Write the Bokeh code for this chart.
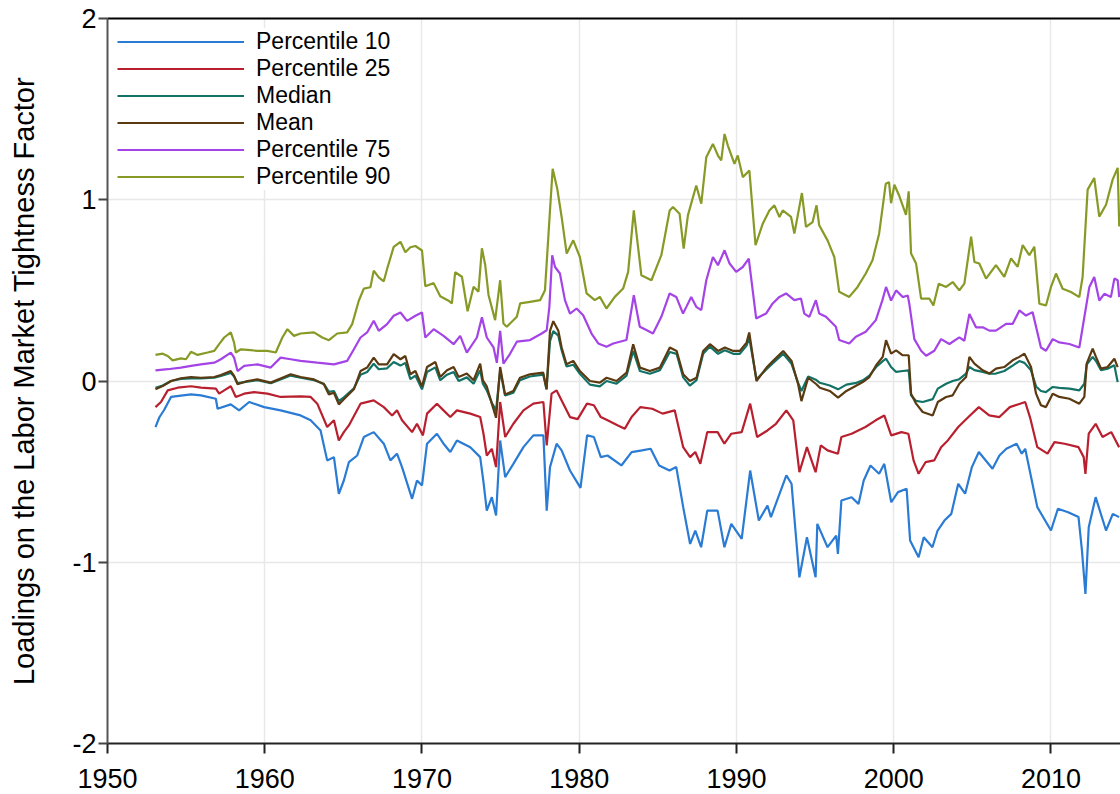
from bokeh.plotting import figure
from bokeh.models import (FixedTicker, LinearAxis, Legend, LegendItem, Range1d,
                          ColumnDataSource)
from bokeh.embed import file_html
from bokeh.resources import INLINE

# ---------------- data ----------------
p10_years = [1953.05, 1953.3, 1953.6, 1954.04, 1955.31, 1955.94, 1956.89, 1957.00, 1957.84, 1958.37,
             1959.01, 1959.96, 1961.01, 1962.28, 1962.92, 1963.55, 1963.97, 1964.40, 1964.71, 1965.03,
             1965.35, 1965.88, 1966.30, 1966.93, 1967.57, 1967.99, 1968.41, 1968.73, 1969.37, 1969.68,
             1970.00, 1970.32, 1970.95, 1971.37, 1971.80, 1972.22, 1973.07, 1973.70, 1973.91, 1974.12,
             1974.44, 1974.71, 1974.97, 1975.29, 1975.81, 1976.45, 1977.08, 1977.72, 1977.93, 1978.14,
             1978.56, 1978.88, 1979.41, 1980.08, 1980.50, 1980.93, 1981.37, 1981.80, 1982.68, 1983.33,
             1983.99, 1984.54, 1985.08, 1985.74, 1986.17, 1986.61, 1987.05, 1987.38, 1987.75, 1988.14,
             1988.80, 1989.23, 1989.67, 1990.33, 1990.87, 1991.42, 1991.97, 1992.19, 1993.17, 1993.50,
             1994.00, 1994.48, 1995.03, 1995.14, 1995.79, 1996.34, 1996.45, 1996.67, 1997.32, 1997.76,
             1998.09, 1998.52, 1999.07, 1999.40, 1999.84, 2000.27, 2000.82, 2001.04, 2001.58, 2001.91,
             2002.46, 2002.79, 2003.22, 2003.66, 2004.10, 2004.54, 2004.97, 2005.41, 2006.28, 2006.72,
             2007.16, 2007.81, 2008.14, 2008.36, 2008.69, 2009.13, 2010.00, 2010.44, 2011.09, 2011.75,
             2011.97, 2012.19, 2012.40, 2012.84, 2013.50, 2013.93, 2014.33]
p10_vals = [-0.254, -0.200, -0.160, -0.088, -0.074, -0.079, -0.098, -0.153, -0.129, -0.162,
            -0.116, -0.144, -0.162, -0.190, -0.217, -0.273, -0.438, -0.420, -0.622, -0.549,
            -0.448, -0.411, -0.309, -0.282, -0.346, -0.438, -0.401, -0.475, -0.650, -0.549,
            -0.576, -0.346, -0.291, -0.346, -0.392, -0.328, -0.365, -0.420, -0.558, -0.715,
            -0.641, -0.742, -0.328, -0.530, -0.457, -0.365, -0.300, -0.300, -0.715, -0.475,
            -0.346, -0.383, -0.494, -0.590, -0.300, -0.309, -0.420, -0.411, -0.466, -0.392,
            -0.383, -0.374, -0.466, -0.494, -0.475, -0.696, -0.899, -0.825, -0.917, -0.715,
            -0.715, -0.917, -0.788, -0.871, -0.494, -0.770, -0.687, -0.751, -0.521, -0.567,
            -1.083, -0.862, -1.083, -0.788, -0.917, -0.853, -0.954, -0.659, -0.641, -0.678,
            -0.549, -0.466, -0.512, -0.457, -0.669, -0.613, -0.595, -0.880, -0.972, -0.862,
            -0.917, -0.825, -0.770, -0.733, -0.567, -0.622, -0.475, -0.392, -0.484, -0.411,
            -0.374, -0.346, -0.401, -0.374, -0.512, -0.696, -0.825, -0.705, -0.724, -0.751,
            -0.936, -1.175, -0.807, -0.641, -0.825, -0.733, -0.751]

p25_years = [1953.05, 1953.40, 1953.83, 1954.46, 1955.31, 1955.94, 1956.89, 1957.10, 1957.42, 1957.84,
             1958.16, 1958.69, 1959.32, 1960.17, 1961.01, 1962.28, 1962.92, 1963.34, 1963.97, 1964.40,
             1964.71, 1965.03, 1965.35, 1966.09, 1966.93, 1967.57, 1968.10, 1968.41, 1968.73, 1969.37,
             1969.68, 1970.06, 1970.32, 1970.95, 1971.37, 1971.80, 1972.22, 1973.07, 1973.70, 1973.91,
             1974.12, 1974.44, 1974.71, 1974.97, 1975.29, 1975.81, 1976.45, 1977.08, 1977.72, 1977.93,
             1978.24, 1978.56, 1978.88, 1979.41, 1979.90, 1980.49, 1980.93, 1981.37, 1981.80, 1982.46,
             1982.90, 1983.33, 1983.88, 1984.64, 1985.30, 1986.07, 1986.61, 1987.05, 1987.38, 1987.70,
             1988.14, 1988.80, 1989.23, 1989.67, 1990.33, 1990.87, 1991.31, 1991.97, 1992.51, 1993.17,
             1993.61, 1994.00, 1994.48, 1995.03, 1995.36, 1995.79, 1996.45, 1996.67, 1997.32, 1998.20,
             1998.85, 1999.40, 1999.84, 2000.49, 2000.93, 2001.26, 2001.58, 2002.02, 2002.57, 2003.01,
             2003.44, 2004.10, 2004.75, 2005.41, 2006.07, 2006.72, 2007.38, 2008.36, 2008.69, 2009.13,
             2009.78, 2010.22, 2010.87, 2011.75, 2012.08, 2012.19, 2012.40, 2012.84, 2013.28, 2013.83,
             2014.33]
p25_vals = [-0.144, -0.116, -0.052, -0.037, -0.029, -0.037, -0.042, -0.070, -0.052, -0.029,
            -0.088, -0.070, -0.061, -0.070, -0.088, -0.085, -0.088, -0.125, -0.254, -0.217,
            -0.328, -0.282, -0.245, -0.125, -0.107, -0.144, -0.190, -0.162, -0.217, -0.282,
            -0.236, -0.300, -0.180, -0.125, -0.162, -0.199, -0.162, -0.180, -0.199, -0.291,
            -0.411, -0.374, -0.475, -0.116, -0.309, -0.236, -0.162, -0.125, -0.116, -0.355,
            -0.070, -0.052, -0.107, -0.199, -0.210, -0.125, -0.134, -0.199, -0.217, -0.245,
            -0.263, -0.199, -0.144, -0.153, -0.180, -0.162, -0.365, -0.420, -0.392, -0.457,
            -0.282, -0.282, -0.346, -0.291, -0.282, -0.125, -0.309, -0.273, -0.236, -0.162,
            -0.217, -0.503, -0.365, -0.503, -0.355, -0.383, -0.401, -0.309, -0.291, -0.254,
            -0.217, -0.190, -0.300, -0.282, -0.291, -0.438, -0.512, -0.448, -0.438, -0.365,
            -0.328, -0.254, -0.199, -0.144, -0.190, -0.199, -0.144, -0.116, -0.208, -0.365,
            -0.401, -0.337, -0.346, -0.365, -0.420, -0.512, -0.291, -0.236, -0.309, -0.282,
            -0.365]

mid_years = [1953.05, 1953.51, 1954.04, 1954.67, 1955.31, 1955.94, 1956.79, 1957.21, 1957.84, 1958.05,
             1958.27, 1958.90, 1959.53, 1960.38, 1961.12, 1961.65, 1962.28, 1963.13, 1963.76, 1964.08,
             1964.40, 1964.71, 1965.03, 1965.67, 1966.09, 1966.51, 1966.93, 1967.25, 1967.78, 1968.20,
             1968.63, 1968.94, 1969.26, 1969.58, 1970.00, 1970.32, 1970.85, 1971.16, 1971.59, 1972.01,
             1972.33, 1972.85, 1973.28, 1973.70, 1973.87, 1974.12, 1974.44, 1974.71, 1974.97, 1975.28,
             1975.81, 1976.23, 1976.86, 1977.71, 1977.92, 1978.14, 1978.35, 1978.67, 1978.88, 1979.19,
             1979.62, 1980.04, 1980.68, 1981.31, 1981.74, 1982.37, 1983.01, 1983.43, 1983.86, 1984.49,
             1985.13, 1985.76, 1986.19, 1986.61, 1987.03, 1987.46, 1987.88, 1988.31, 1988.83, 1989.26,
             1989.79, 1990.21, 1990.64, 1990.81, 1991.27, 1991.91, 1992.33, 1992.97, 1993.50, 1993.92,
             1994.13, 1994.56, 1995.08, 1995.30, 1995.93, 1996.46, 1996.99, 1997.63, 1998.03, 1998.45,
             1998.88, 1999.30, 1999.51, 1999.83, 2000.15, 2000.57, 2000.95, 2001.10, 2001.42, 2001.84,
             2002.48, 2002.80, 2003.33, 2003.75, 2004.17, 2004.60, 2004.81, 2005.13, 2005.66, 2006.08,
             2006.50, 2007.03, 2007.56, 2007.99, 2008.31, 2008.73, 2009.05, 2009.36, 2009.68, 2010.11,
             2010.53, 2011.17, 2011.80, 2012.12, 2012.27, 2012.65, 2012.86, 2013.18, 2013.60, 2014.03,
             2014.24]
mean_vals = [-0.046, -0.028, 0.000, 0.015, 0.022, 0.018, 0.022, 0.033, 0.055, 0.028,
             -0.018, 0.000, 0.009, -0.009, 0.018, 0.037, 0.022, 0.009, -0.018, -0.074,
             -0.065, -0.129, -0.101, -0.046, 0.055, 0.074, 0.129, 0.092, 0.092, 0.148,
             0.120, 0.138, 0.037, 0.055, -0.030, 0.077, 0.105, 0.022, 0.059, 0.077,
             0.022, 0.041, 0.004, 0.096, 0.004, -0.030, -0.125, -0.203, 0.077, -0.074,
             -0.055, 0.018, 0.037, 0.046, -0.046, 0.277, 0.330, 0.277, 0.185, 0.092,
             0.111, 0.055, 0.000, -0.009, 0.018, 0.000, 0.046, 0.203, 0.074, 0.055,
             0.074, 0.185, 0.166, 0.037, 0.000, 0.018, 0.166, 0.203, 0.166, 0.185,
             0.166, 0.166, 0.212, 0.268, 0.000, 0.074, 0.111, 0.166, 0.111, -0.018,
             -0.111, 0.018, -0.018, -0.037, -0.055, -0.092, -0.055, -0.025, -0.006, 0.022,
             0.087, 0.133, 0.225, 0.151, 0.169, 0.142, 0.142, -0.070, -0.125, -0.171,
             -0.190, -0.116, -0.088, -0.079, -0.015, 0.022, 0.133, 0.096, 0.059, 0.041,
             0.068, 0.077, 0.114, 0.133, 0.151, 0.077, -0.070, -0.134, -0.144, -0.070,
             -0.088, -0.098, -0.125, -0.088, 0.096, 0.179, 0.133, 0.068, 0.077, 0.123,
             0.077]
median_vals = [-0.037, -0.025, 0.000, 0.012, 0.015, 0.015, 0.018, 0.028, 0.045, 0.025,
               -0.012, -0.003, 0.004, -0.012, 0.012, 0.030, 0.018, 0.004, -0.015, -0.060,
               -0.055, -0.111, -0.090, -0.040, 0.035, 0.050, 0.095, 0.065, 0.070, 0.105,
               0.085, 0.100, 0.010, 0.030, -0.046, 0.050, 0.075, 0.004, 0.035, 0.050,
               0.000, 0.020, -0.015, 0.060, -0.015, -0.052, -0.120, -0.162, 0.059, -0.080,
               -0.065, 0.005, 0.025, 0.035, -0.045, 0.220, 0.275, 0.250, 0.170, 0.080,
               0.090, 0.040, -0.020, -0.030, 0.000, -0.015, 0.030, 0.166, 0.055, 0.040,
               0.060, 0.160, 0.150, 0.020, -0.025, 0.005, 0.150, 0.190, 0.150, 0.170,
               0.150, 0.150, 0.195, 0.240, 0.010, 0.065, 0.100, 0.150, 0.095, -0.010,
               -0.055, 0.025, 0.005, -0.010, -0.025, -0.046, -0.020, -0.010, 0.004, 0.030,
               0.077, 0.110, 0.123, 0.077, 0.050, 0.055, 0.059, -0.079, -0.110, -0.116,
               -0.100, -0.042, -0.015, 0.000, 0.010, 0.041, 0.077, 0.060, 0.050, 0.040,
               0.041, 0.055, 0.085, 0.110, 0.100, 0.059, -0.030, -0.055, -0.061, -0.033,
               -0.038, -0.042, -0.052, -0.015, 0.090, 0.133, 0.110, 0.059, 0.068, 0.087,
               -0.006]

p75_years = [1953.05, 1953.83, 1954.67, 1955.31, 1955.94, 1956.79, 1957.21, 1957.84, 1958.05, 1958.27,
             1958.69, 1959.53, 1960.38, 1961.01, 1961.65, 1962.28, 1963.34, 1964.40, 1965.24, 1965.67,
             1966.09, 1966.51, 1966.93, 1967.25, 1967.78, 1968.20, 1968.63, 1969.05, 1969.58, 1970.00,
             1970.21, 1970.74, 1971.37, 1972.01, 1972.43, 1972.85, 1973.49, 1973.81, 1974.12, 1974.55,
             1974.76, 1974.97, 1975.18, 1975.60, 1976.03, 1976.87, 1977.61, 1977.93, 1978.10, 1978.28,
             1978.46, 1978.77, 1979.09, 1979.41, 1979.83, 1980.25, 1980.78, 1981.21, 1981.73, 1982.16,
             1983.00, 1983.47, 1983.85, 1984.27, 1984.69, 1985.22, 1985.75, 1986.17, 1986.60, 1986.81,
             1987.12, 1987.44, 1987.76, 1988.08, 1988.50, 1988.82, 1989.24, 1989.56, 1989.98, 1990.40,
             1990.78, 1991.25, 1991.88, 1992.30, 1992.73, 1993.15, 1993.68, 1994.10, 1994.31, 1994.63,
             1995.05, 1995.26, 1995.69, 1996.32, 1996.53, 1997.17, 1997.59, 1998.22, 1998.86, 1999.28,
             1999.51, 1999.83, 2000.15, 2000.57, 2000.89, 2000.99, 2001.31, 2001.74, 2002.06, 2002.58,
             2003.01, 2003.54, 2004.17, 2004.49, 2004.81, 2005.23, 2005.66, 2006.08, 2006.50, 2007.14,
             2007.56, 2007.99, 2008.41, 2008.83, 2009.36, 2009.68, 2010.11, 2010.53, 2011.17, 2011.80,
             2012.12, 2012.44, 2012.75, 2013.07, 2013.39, 2013.81, 2014.03, 2014.24, 2014.34]
p75_vals = [0.059, 0.065, 0.074, 0.083, 0.092, 0.101, 0.120, 0.157, 0.129, 0.055,
            0.083, 0.092, 0.074, 0.129, 0.120, 0.111, 0.101, 0.092, 0.111, 0.175,
            0.240, 0.268, 0.332, 0.277, 0.314, 0.360, 0.378, 0.332, 0.360, 0.378,
            0.240, 0.286, 0.249, 0.203, 0.249, 0.157, 0.240, 0.351, 0.240, 0.185,
            0.100, 0.277, 0.096, 0.150, 0.217, 0.226, 0.262, 0.280, 0.409, 0.694,
            0.629, 0.593, 0.446, 0.372, 0.400, 0.363, 0.262, 0.207, 0.189, 0.207,
            0.226, 0.473, 0.299, 0.281, 0.262, 0.354, 0.483, 0.464, 0.372, 0.409,
            0.464, 0.409, 0.391, 0.556, 0.684, 0.639, 0.721, 0.648, 0.602, 0.629,
            0.675, 0.345, 0.372, 0.428, 0.464, 0.483, 0.446, 0.455, 0.372, 0.354,
            0.446, 0.372, 0.354, 0.299, 0.226, 0.207, 0.244, 0.272, 0.336, 0.446,
            0.519, 0.444, 0.500, 0.463, 0.472, 0.426, 0.231, 0.167, 0.139, 0.167,
            0.231, 0.204, 0.241, 0.222, 0.370, 0.296, 0.296, 0.278, 0.278, 0.315,
            0.315, 0.389, 0.361, 0.380, 0.185, 0.167, 0.231, 0.213, 0.204, 0.185,
            0.352, 0.519, 0.574, 0.444, 0.481, 0.463, 0.565, 0.556, 0.463]

p90_years = [1953.05, 1953.51, 1953.83, 1954.14, 1954.67, 1954.99, 1955.31, 1955.73, 1956.36, 1956.79,
             1957.10, 1957.42, 1957.84, 1958.05, 1958.16, 1958.48, 1959.11, 1959.53, 1960.17, 1960.70,
             1961.12, 1961.44, 1961.86, 1962.28, 1963.13, 1963.66, 1964.08, 1964.61, 1965.24, 1965.56,
             1965.98, 1966.30, 1966.72, 1966.93, 1967.25, 1967.57, 1967.78, 1968.20, 1968.63, 1968.94,
             1969.26, 1969.58, 1970.00, 1970.21, 1970.74, 1971.16, 1971.69, 1971.90, 1972.11, 1972.54,
             1972.90, 1973.28, 1973.59, 1973.81, 1974.02, 1974.23, 1974.65, 1974.97, 1975.18, 1975.39,
             1976.03, 1976.24, 1976.87, 1977.51, 1977.82, 1978.14, 1978.31, 1978.60, 1978.88, 1979.20,
             1979.62, 1980.04, 1980.47, 1980.99, 1981.31, 1981.73, 1982.26, 1982.79, 1983.11, 1983.47,
             1983.74, 1983.95, 1984.59, 1985.22, 1985.75, 1985.96, 1986.38, 1986.64, 1986.91, 1987.44,
             1987.76, 1988.08, 1988.50, 1988.82, 1989.03, 1989.24, 1989.45, 1989.87, 1990.08, 1990.40,
             1990.82, 1991.21, 1991.67, 1992.09, 1992.41, 1992.73, 1992.94, 1993.47, 1993.68, 1994.16,
             1994.42, 1994.84, 1995.09, 1995.26, 1995.79, 1996.22, 1996.53, 1997.17, 1997.70, 1998.22,
             1998.65, 1999.07, 1999.49, 1999.70, 1999.83, 2000.04, 2000.36, 2000.78, 2000.95, 2001.10,
             2001.42, 2001.74, 2002.27, 2002.52, 2002.86, 2003.33, 2003.75, 2004.17, 2004.49, 2004.92,
             2005.13, 2005.44, 2005.87, 2006.50, 2007.03, 2007.46, 2007.88, 2008.20, 2008.62, 2008.94,
             2009.26, 2009.68, 2010.00, 2010.32, 2010.74, 2011.27, 2011.80, 2012.01, 2012.33, 2012.75,
             2013.07, 2013.50, 2013.92, 2014.24, 2014.34]
p90_vals = [0.144, 0.151, 0.138, 0.114, 0.125, 0.120, 0.161, 0.144, 0.157, 0.166,
            0.203, 0.240, 0.268, 0.212, 0.157, 0.175, 0.170, 0.166, 0.166, 0.157,
            0.240, 0.286, 0.249, 0.262, 0.268, 0.240, 0.225, 0.262, 0.268, 0.314,
            0.443, 0.510, 0.517, 0.609, 0.572, 0.550, 0.618, 0.740, 0.768, 0.710,
            0.738, 0.745, 0.720, 0.523, 0.540, 0.468, 0.443, 0.428, 0.600, 0.575,
            0.385, 0.520, 0.493, 0.732, 0.640, 0.475, 0.336, 0.556, 0.317, 0.299,
            0.354, 0.428, 0.437, 0.446, 0.501, 0.941, 1.171, 1.061, 0.905, 0.703,
            0.776, 0.684, 0.483, 0.446, 0.464, 0.400, 0.464, 0.510, 0.602, 0.941,
            0.739, 0.583, 0.556, 0.694, 0.941, 0.960, 0.923, 0.730, 0.914, 1.079,
            0.978, 1.235, 1.308, 1.244, 1.217, 1.363, 1.299, 1.198, 1.244, 1.125,
            1.161, 0.749, 0.868, 0.941, 0.969, 0.905, 0.941, 0.905, 0.813, 1.037,
            0.850, 0.877, 0.969, 0.859, 0.776, 0.684, 0.492, 0.464, 0.519, 0.593,
            0.666, 0.813, 1.088, 1.097, 0.981, 1.083, 1.019, 0.917, 1.046, 0.704,
            0.648, 0.454, 0.454, 0.417, 0.537, 0.519, 0.546, 0.500, 0.537, 0.796,
            0.657, 0.648, 0.565, 0.639, 0.574, 0.676, 0.630, 0.750, 0.694, 0.741,
            0.426, 0.417, 0.519, 0.593, 0.509, 0.491, 0.463, 0.574, 1.056, 1.120,
            0.907, 0.972, 1.111, 1.176, 0.852]

x_ticks = [1950, 1960, 1970, 1980, 1990, 2000, 2010]
y_ticks = [-2, -1, 0, 1, 2]
y_tick_labels = {2: "2", 1: "1", 0: "0", -1: "-1", -2: "-2"}

series = [
    ("Percentile 10", p10_years, p10_vals, "#2a7bd3"),
    ("Percentile 25", p25_years, p25_vals, "#b8202f"),
    ("Median", mid_years, median_vals, "#127266"),
    ("Mean", mid_years, mean_vals, "#5b3a12"),
    ("Percentile 75", p75_years, p75_vals, "#a444e6"),
    ("Percentile 90", p90_years, p90_vals, "#879a26"),
]

FONT = "Liberation Sans"

p = figure(width=1120, height=794, output_backend="svg", toolbar_location=None,
           x_range=Range1d(1950, 2014.42), y_range=Range1d(-2, 2),
           min_border_left=107, min_border_right=0, min_border_top=18, min_border_bottom=51)
p.outline_line_color = None
p.background_fill_color = "white"

items = []
for name, xs, ys, col in series:
    src = ColumnDataSource(dict(x=xs, y=ys))
    r = p.line("x", "y", source=src, line_color=col, line_width=2.2)
    items.append(LegendItem(label=name, renderers=[r]))

# axes
xa = p.xaxis[0]
xa.ticker = FixedTicker(ticks=x_ticks)
xa.minor_tick_line_color = None
xa.major_tick_in = 0
xa.major_tick_out = 10
xa.major_tick_line_width = 2
xa.major_tick_line_color = "#222222"
xa.axis_line_width = 2
xa.axis_line_color = "#222222"
xa.major_label_text_font = FONT
xa.major_label_text_font_size = "27px"
xa.major_label_text_color = "black"
xa.major_label_text_line_height = 0.8
xa.major_label_standoff = 15

ya = p.yaxis[0]
ya.ticker = FixedTicker(ticks=y_ticks)
ya.major_label_overrides = y_tick_labels
ya.minor_tick_line_color = None
ya.major_tick_in = 0
ya.major_tick_out = 9
ya.major_tick_line_width = 2
ya.major_tick_line_color = "#444444"
ya.axis_line_width = 2
ya.axis_line_color = "#555555"
ya.major_label_text_font = FONT
ya.major_label_text_font_size = "27px"
ya.major_label_text_color = "black"
ya.major_label_standoff = 2
ya.axis_label = "Loadings on the Labor Market Tightness Factor"
ya.axis_label_text_font = FONT
ya.axis_label_text_font_size = "29px"
ya.axis_label_text_font_style = "normal"
ya.axis_label_text_color = "black"
ya.axis_label_standoff = 29

top = LinearAxis(major_tick_line_color=None, minor_tick_line_color=None,
                 major_label_text_font_size="0px", major_label_standoff=0,
                 axis_line_color="black", axis_line_width=2)
top.ticker = FixedTicker(ticks=[])
p.add_layout(top, "above")

p.xgrid.ticker = FixedTicker(ticks=x_ticks)
p.ygrid.ticker = FixedTicker(ticks=y_ticks)
p.xgrid.grid_line_color = "#e8e8e8"
p.ygrid.grid_line_color = "#e8e8e8"
p.xgrid.grid_line_width = 1.5
p.ygrid.grid_line_width = 1.5

legend = Legend(items=items, location="top_left")
legend.label_text_font = FONT
legend.label_text_font_size = "23px"
legend.label_text_color = "black"
legend.label_text_line_height = 1.0
legend.glyph_width = 127
legend.glyph_height = 25
legend.label_height = 25
legend.label_standoff = 12
legend.spacing = -1
legend.padding = 2
legend.margin = 10
legend.border_line_color = None
legend.background_fill_color = "white"
legend.background_fill_alpha = 1.0
p.add_layout(legend)

open("out.html", "w").write(file_html(p, INLINE))
